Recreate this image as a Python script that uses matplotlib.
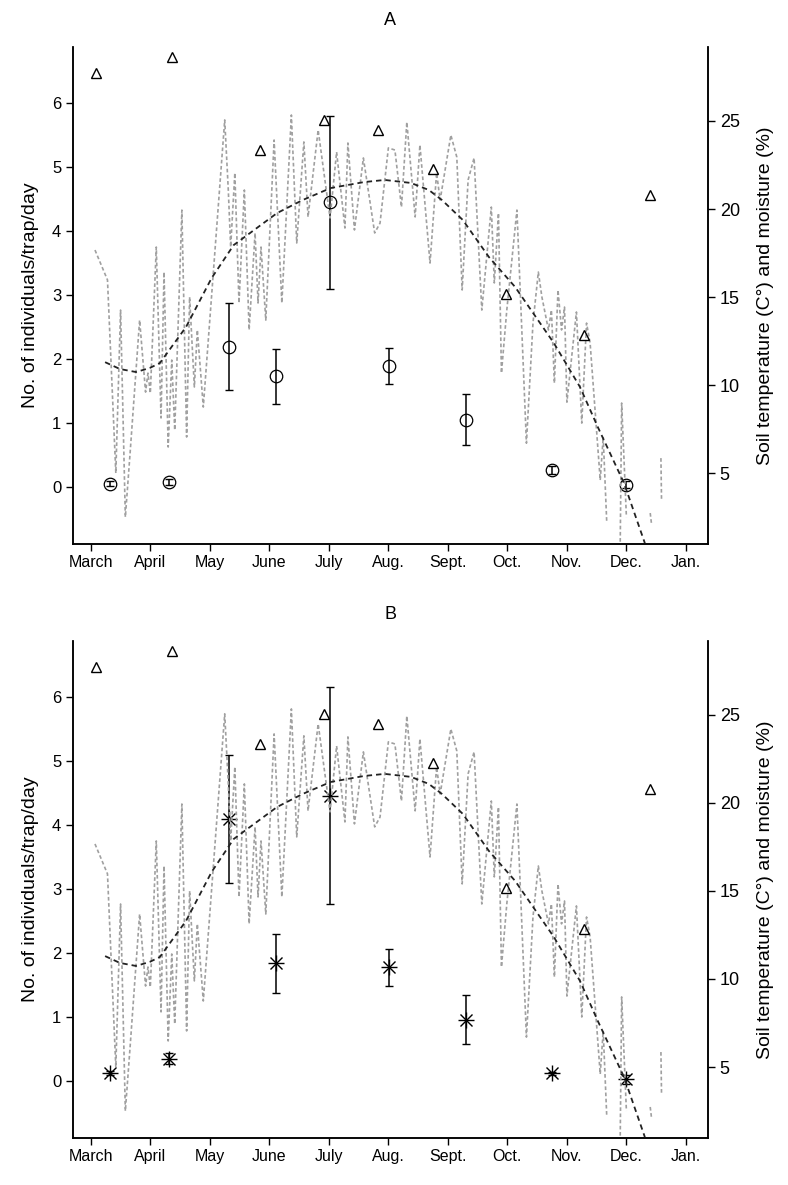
import numpy as np
import matplotlib
matplotlib.use('Agg')
import matplotlib.pyplot as plt

plt.rcParams['font.family'] = ['Liberation Sans', 'DejaVu Sans']

months = ['March', 'April', 'May', 'June', 'July', 'Aug.', 'Sept.', 'Oct.', 'Nov.', 'Dec.', 'Jan.']

# daily soil temperature (right axis), x in months from 1 March, nan = gap
temp_x = [0.07, 0.28, 0.42, 0.50, 0.58, 0.66, 0.82, 0.92, 0.96, 1.00, 1.10, 1.18, 1.23, 1.30, 1.36, 1.41,
          1.53, 1.61, 1.66, 1.74, 1.79, 1.89, 2.25, 2.31, 2.35, 2.42, 2.49, 2.58, 2.66, 2.76, 2.81, 2.86,
          2.94, 3.08, 3.21, 3.37, 3.46, 3.58, 3.65, 3.82, 4.02, 4.13, 4.27, 4.32, 4.43, 4.58, 4.77, 4.86,
          5.00, 5.11, 5.22, 5.31, 5.45, 5.53, 5.70, 5.81, 5.87, 6.05, 6.15, 6.24, 6.34, 6.44, 6.57, 6.73,
          6.78, 6.85, 6.90, 6.99, 7.16, 7.32, 7.43, 7.52, 7.58, 7.69, 7.74, 7.79, 7.85, 7.91, 7.96, 8.00,
          8.16, 8.25, 8.33, 8.39, 8.56, 8.61, 8.67, np.nan, 8.89, 8.92, 9.00, np.nan, 9.40, 9.42, np.nan,
          9.58, 9.59]
temp_y = [17.67, 15.97, 5.0, 14.26, 2.50, 6.14, 13.69, 9.60, 10.68, 9.54, 17.84, 8.13, 16.42, 6.48, 11.42, 7.44,
          19.94, 7.05, 15.0, 9.89, 13.13, 8.75, 25.06, 21.08, 17.84, 22.05, 14.66, 21.08, 13.13, 18.64, 14.66, 17.84,
          13.69, 23.92, 14.66, 25.34, 18.07, 23.81, 19.55, 24.49, 19.49, 23.24, 18.92, 23.75, 18.81, 22.90, 18.64, 19.20,
          23.47, 23.35, 20.11, 24.94, 19.55, 23.64, 16.93, 22.05, 20.51, 24.2, 22.95, 15.40, 21.65, 22.90, 14.26, 20.11,
          15.80, 19.77, 10.68, 14.26, 19.94, 6.70, 13.52, 16.42, 15.0, 13.13, 14.26, 10.11, 15.40, 13.13, 14.43, 9.03,
          14.15, 7.84, 13.52, 12.39, 4.60, 7.05, 2.16, np.nan, -1.0, 8.98, 2.50, np.nan, 2.73, 2.16, np.nan,
          5.85, 3.47]

# smoothed trend (right axis)
trend_x = [0.24, 0.49, 0.76, 0.99, 1.16, 1.60, 2.03, 2.40, 3.13, 3.56, 4.03, 4.59, 4.94, 5.38, 5.68, 5.90,
           6.25, 6.69, 7.13, 7.78, 8.22, 8.52, 8.96, 9.31]
trend_y = [11.30, 10.91, 10.74, 10.97, 11.25, 13.30, 16.08, 17.95, 19.77, 20.51, 21.19, 21.53, 21.65, 21.48,
           21.08, 20.51, 19.38, 17.27, 15.57, 12.39, 9.89, 7.61, 4.43, 1.02]

# soil moisture (triangles, right axis)
moist_x = [0.08, 1.36, 2.85, 3.92, 4.82, 5.75, 6.97, 8.28, 9.39]
moist_y = [27.71, 28.65, 23.35, 25.06, 24.49, 22.27, 15.15, 12.84, 20.80]

# catches (left axis)
sample_x = [0.32, 1.31, 2.32, 3.11, 4.02, 5.01, 6.30, 7.75, 8.99]
catch_a = [0.05, 0.08, 2.19, 1.73, 4.45, 1.89, 1.05, 0.27, 0.04]
catch_a_se = [0.04, 0.05, 0.68, 0.43, 1.35, 0.28, 0.40, 0.06, 0.05]
catch_b = [0.12, 0.35, 4.09, 1.84, 4.46, 1.78, 0.96, 0.12, 0.03]
catch_b_se = [0.03, 0.08, 1.00, 0.46, 1.69, 0.29, 0.38, 0.02, 0.07]

fig = plt.figure(figsize=(7.88, 11.85), dpi=100)


def panel(rect, title, means, ses, star):
    ax = fig.add_axes(rect)
    ax2 = ax.twinx()
    ax2.plot(temp_x, temp_y, color='#a0a0a0', lw=1.2, linestyle=(0, (2.2, 1.5)))
    ax2.plot(trend_x, trend_y, color='#222222', lw=1.3, linestyle=(0, (3, 2.2)))
    ax2.plot(moist_x, moist_y, linestyle='none', marker='^', ms=6.5, mfc='none', mec='black', mew=1.0)

    ax.errorbar(sample_x, means, yerr=ses, fmt='none', ecolor='black', elinewidth=1.1, capsize=3, capthick=1.0)
    if star:
        ax.plot(sample_x, means, linestyle='none', marker='+', ms=11, mec='black', mew=1.0)
        ax.plot(sample_x, means, linestyle='none', marker='x', ms=8, mec='black', mew=1.0)
    else:
        ax.plot(sample_x, means, linestyle='none', marker='o', ms=9, mfc='none', mec='black', mew=0.9)

    ax.set_xlim(-0.30, 10.37)
    ax.set_ylim(-0.89, 6.875)
    ax2.set_ylim(0.97, 29.2)
    ax.set_xticks(range(len(months)))
    ax.set_xticklabels(months)
    ax.set_yticks(range(7))
    ax2.set_yticks([5, 10, 15, 20, 25])
    for a in (ax, ax2):
        a.spines['top'].set_visible(False)
        for s in ('left', 'right', 'bottom'):
            a.spines[s].set_linewidth(1.1)
        a.tick_params(direction='out', length=5, width=1.0, labelsize=12)
    ax2.tick_params(labelsize=13)
    ax.tick_params(axis='x', pad=3, labelsize=11.5)
    ax.set_ylabel('No. of individuals/trap/day', fontsize=14, labelpad=9)
    ax2.set_ylabel('Soil temperature (C°) and moisture (%)', fontsize=14, labelpad=12)
    ax.set_title(title, fontsize=13, pad=16)


panel([0.0926, 0.5409, 0.8058, 0.4194], 'A', catch_a, catch_a_se, False)
panel([0.0926, 0.0397, 0.8058, 0.4194], 'B', catch_b, catch_b_se, True)

fig.savefig('out.png', dpi=100)
